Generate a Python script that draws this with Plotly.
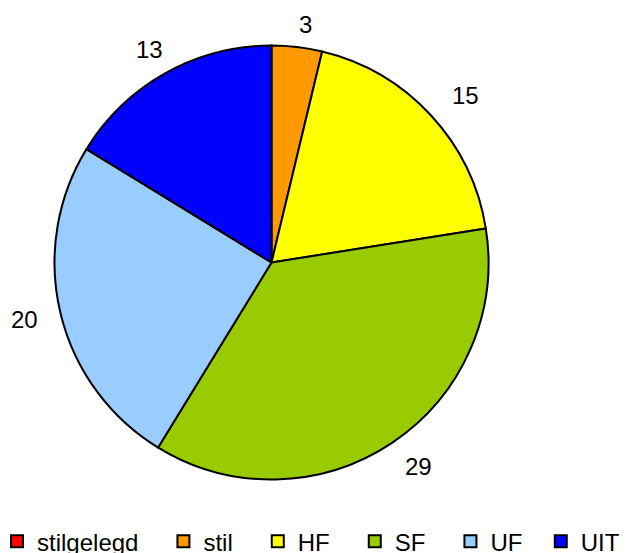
import math
import plotly.graph_objects as go

categories = ["stilgelegd", "stil", "HF", "SF", "UF", "UIT"]
values = [0, 3, 15, 29, 20, 13]
colors = ["#FF0000", "#FF9900", "#FFFF00", "#99CC00", "#99CCFF", "#0000FF"]

W, H = 627, 553
OFF = 8  # page body margin: figure coords = page coords - 8
cx, cy, r = 271.5 - OFF, 262.5 - OFF, 217.0  # pie centre / radius in figure px

# legend entries padded with non-breaking spaces to widen the gaps between items
pad = [3, 3, 3, 3, 2, 0]
legend_labels = [c + "\u00a0" * p for c, p in zip(categories, pad)]

fig = go.Figure()
fig.add_trace(go.Pie(
    labels=legend_labels, values=values, sort=False, direction="clockwise", rotation=0,
    marker=dict(colors=colors, line=dict(color="#000000", width=2)),
    textinfo="none", hoverinfo="label+value",
    domain=dict(x=[(cx - r) / W, (cx + r) / W], y=[(H - cy - r) / H, (H - cy + r) / H]),
    showlegend=True,
))

# value labels placed just outside each slice, computed from the data
LFS = 24
total = sum(values)
cum = 0
lcx = cx + 4
erx, ery = 223.5, 210.5  # label reference ellipse
gap = 20
for v in values:
    if v > 0:
        mid = (cum + v / 2) / total * 2 * math.pi
        ux, uy = math.sin(mid), -math.cos(mid)
        hw = 0.278 * LFS * len(str(v))
        hh = 0.358 * LFS
        d = gap + hw * abs(ux) + hh * abs(uy)
        x = lcx + erx * ux + d * ux
        y = cy + ery * uy + d * uy
        fig.add_annotation(x=x / W, y=1 - y / H, xref="paper", yref="paper",
                           text=str(v), showarrow=False,
                           font=dict(size=LFS, color="#000000"),
                           xanchor="center", yanchor="middle")
    cum += v

fig.update_layout(
    width=W, height=H,
    margin=dict(l=0, r=0, t=0, b=0, autoexpand=False),
    paper_bgcolor="white", plot_bgcolor="white",
    font=dict(family="Liberation Sans, Arial, sans-serif", color="#000000"),
    legend=dict(orientation="h", x=-0.0175, xanchor="left", y=-0.0055, yanchor="bottom",
                font=dict(size=24), traceorder="normal"),
)

fig.write_html("out.html")
